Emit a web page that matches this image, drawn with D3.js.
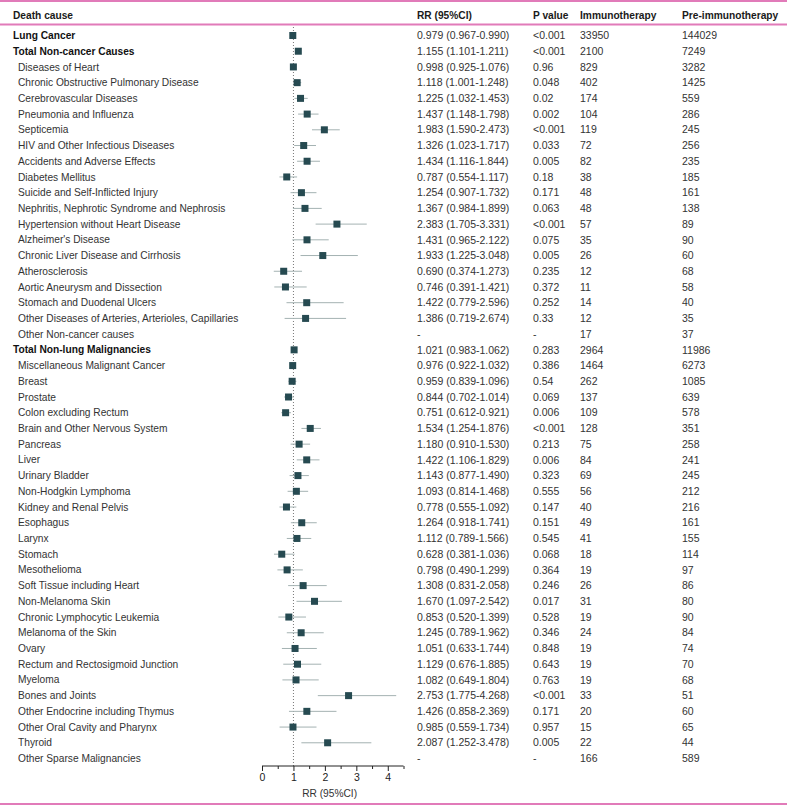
<!DOCTYPE html>
<html>
<head>
<meta charset="utf-8">
<script src="https://cdn.jsdelivr.net/npm/d3@7"></script>
<style>
  body { margin: 0; background: #fff; }
  svg text { font-family: "Liberation Sans", Arial, sans-serif; }
</style>
</head>
<body>
<svg id="vis"></svg>
<script>
// rows of the forest plot
var causes = ["Lung Cancer","Total Non-cancer Causes","Diseases of Heart","Chronic Obstructive Pulmonary Disease",
  "Cerebrovascular Diseases","Pneumonia and Influenza","Septicemia","HIV and Other Infectious Diseases",
  "Accidents and Adverse Effects","Diabetes Mellitus","Suicide and Self-Inflicted Injury",
  "Nephritis, Nephrotic Syndrome and Nephrosis","Hypertension without Heart Disease","Alzheimer's Disease",
  "Chronic Liver Disease and Cirrhosis","Atherosclerosis","Aortic Aneurysm and Dissection",
  "Stomach and Duodenal Ulcers","Other Diseases of Arteries, Arterioles, Capillaries","Other Non-cancer causes",
  "Total Non-lung Malignancies","Miscellaneous Malignant Cancer","Breast","Prostate","Colon excluding Rectum",
  "Brain and Other Nervous System","Pancreas","Liver","Urinary Bladder","Non-Hodgkin Lymphoma",
  "Kidney and Renal Pelvis","Esophagus","Larynx","Stomach","Mesothelioma","Soft Tissue including Heart",
  "Non-Melanoma Skin","Chronic Lymphocytic Leukemia","Melanoma of the Skin","Ovary",
  "Rectum and Rectosigmoid Junction","Myeloma","Bones and Joints","Other Endocrine including Thymus",
  "Other Oral Cavity and Pharynx","Thyroid","Other Sparse Malignancies"];

var headings = ["Lung Cancer","Total Non-cancer Causes","Total Non-lung Malignancies"];

var rr = [0.979,1.155,0.998,1.118,1.225,1.437,1.983,1.326,1.434,0.787,1.254,1.367,2.383,1.431,1.933,0.690,0.746,1.422,1.386,null,
  1.021,0.976,0.959,0.844,0.751,1.534,1.180,1.422,1.143,1.093,0.778,1.264,1.112,0.628,0.798,1.308,1.670,0.853,1.245,1.051,1.129,1.082,2.753,1.426,0.985,2.087,null];
var lo = [0.967,1.101,0.925,1.001,1.032,1.148,1.590,1.023,1.116,0.554,0.907,0.984,1.705,0.965,1.225,0.374,0.391,0.779,0.719,null,
  0.983,0.922,0.839,0.702,0.612,1.254,0.910,1.106,0.877,0.814,0.555,0.918,0.789,0.381,0.490,0.831,1.097,0.520,0.789,0.633,0.676,0.649,1.775,0.858,0.559,1.252,null];
var hi = [0.990,1.211,1.076,1.248,1.453,1.798,2.473,1.717,1.844,1.117,1.732,1.899,3.331,2.122,3.048,1.273,1.421,2.596,2.674,null,
  1.062,1.032,1.096,1.014,0.921,1.876,1.530,1.829,1.490,1.468,1.092,1.741,1.566,1.036,1.299,2.058,2.542,1.399,1.962,1.744,1.885,1.804,4.268,2.369,1.734,3.478,null];
var pvals = ["<0.001","<0.001","0.96","0.048","0.02","0.002","<0.001","0.033","0.005","0.18","0.171","0.063","<0.001","0.075","0.005","0.235","0.372","0.252","0.33","-",
  "0.283","0.386","0.54","0.069","0.006","<0.001","0.213","0.006","0.323","0.555","0.147","0.151","0.545","0.068","0.364","0.246","0.017","0.528","0.346","0.848","0.643","0.763","<0.001","0.171","0.957","0.005","-"];
var immuno = [33950,2100,829,402,174,104,119,72,82,38,48,48,57,35,26,12,11,14,12,17,
  2964,1464,262,137,109,128,75,84,69,56,40,49,41,18,19,26,31,19,24,19,19,19,33,20,15,22,166];
var preImmuno = [144029,7249,3282,1425,559,286,245,256,235,185,161,138,89,90,60,68,58,40,35,37,
  11986,6273,1085,639,578,351,258,241,245,212,216,161,155,114,97,86,80,90,84,74,70,68,51,60,65,44,589];
var axisTicks = [0,1,2,3,4];

var width = 787, height = 808;
var pink = "#e17bb9", boxCol = "#264a51", ciCol = "#a4b2b2";

var svg = d3.select("#vis").attr("width", width).attr("height", height);

var x = d3.scaleLinear().domain([0, 4.5]).range([262, 403.5]);
var y = d3.scaleLinear().domain([0, causes.length - 1]).range([35.5, 758.5]);

var rows = causes.map(function(c, i) {
  return {cause: c, bold: headings.indexOf(c) >= 0, rr: rr[i], lo: lo[i], hi: hi[i],
          p: pvals[i], im: immuno[i], pre: preImmuno[i]};
});

// pink rules
[1, 24.5, 804].forEach(function(yy) {
  svg.append("line").attr("x1", 0).attr("x2", width).attr("y1", yy).attr("y2", yy)
    .attr("stroke", pink).attr("stroke-width", 2);
});

// header
var hdr = [["Death cause", 13], ["RR (95%CI)", 417], ["P value", 533], ["Immunotherapy", 580], ["Pre-immunotherapy", 682]];
svg.append("g").selectAll("text").data(hdr).enter().append("text")
  .attr("x", function(d) { return d[1]; })
  .attr("y", 15)
  .attr("dy", ".35em")
  .attr("font-size", 10.2)
  .attr("font-weight", "bold")
  .attr("fill", "#1a1a1a")
  .text(function(d) { return d[0]; });

// reference line at 1
svg.append("line")
  .attr("x1", x(1)).attr("x2", x(1))
  .attr("y1", 27).attr("y2", 766)
  .attr("stroke", "#777").attr("stroke-width", 1)
  .attr("stroke-dasharray", "1,2");

// text columns
var txt = svg.append("g");
txt.selectAll(".lab").data(rows).enter().append("text")
  .attr("x", function(d) { return d.bold ? 13 : 18; })
  .attr("y", function(d, i) { return y(i); })
  .attr("dy", ".35em")
  .attr("font-size", 10.2)
  .attr("font-weight", function(d) { return d.bold ? "bold" : "normal"; })
  .attr("fill", function(d) { return d.bold ? "#111" : "#333"; })
  .text(function(d) { return d.cause; });

var cols = [
  [417, function(d) { return d.rr == null ? "-" : d.rr.toFixed(3) + " (" + d.lo.toFixed(3) + "-" + d.hi.toFixed(3) + ")"; }],
  [533, function(d) { return d.p; }],
  [580, function(d) { return d.im; }],
  [682, function(d) { return d.pre; }]
];
cols.forEach(function(c) {
  txt.append("g").selectAll("text").data(rows).enter().append("text")
    .attr("x", c[0])
    .attr("y", function(d, i) { return y(i); })
    .attr("dy", ".35em")
    .attr("font-size", 10.5)
    .attr("fill", "#333")
    .text(c[1]);
});

// CIs and boxes
var marks = svg.append("g");
var withCI = rows.map(function(d, i) { d.i = i; return d; }).filter(function(d) { return d.rr != null; });
marks.selectAll(".ci").data(withCI).enter().append("line")
  .attr("x1", function(d) { return x(d.lo); })
  .attr("x2", function(d) { return x(d.hi); })
  .attr("y1", function(d) { return y(d.i); })
  .attr("y2", function(d) { return y(d.i); })
  .attr("stroke", ciCol).attr("stroke-width", 1);
marks.selectAll(".box").data(withCI).enter().append("rect")
  .attr("x", function(d) { return x(d.rr) - 3.5; })
  .attr("y", function(d) { return y(d.i) - 3.5; })
  .attr("width", 7).attr("height", 7)
  .attr("fill", boxCol);

// axis
var axis = svg.append("g").attr("transform", "translate(0,766)");
axis.call(d3.axisBottom(x).tickValues(d3.range(0, 4.51, 0.5)).tickSize(4)
    .tickFormat(function(d) { return axisTicks.indexOf(d) >= 0 ? d : ""; }));
axis.select(".domain").attr("stroke", "#222").attr("d", "M" + x(0) + ",0H" + x(4.5));
axis.selectAll(".tick line").attr("stroke", "#222")
  .attr("y2", function(d) { return d % 1 === 0 ? 5 : 3; });
axis.selectAll(".tick text").attr("font-size", 10.5).attr("fill", "#222")
  .attr("font-family", "Liberation Sans, Arial, sans-serif").attr("y", 8);

svg.append("text")
  .attr("x", x(2.15)).attr("y", 797)
  .attr("text-anchor", "middle")
  .attr("font-size", 10.2).attr("fill", "#333")
  .text("RR (95%CI)");
</script>
</body>
</html>
